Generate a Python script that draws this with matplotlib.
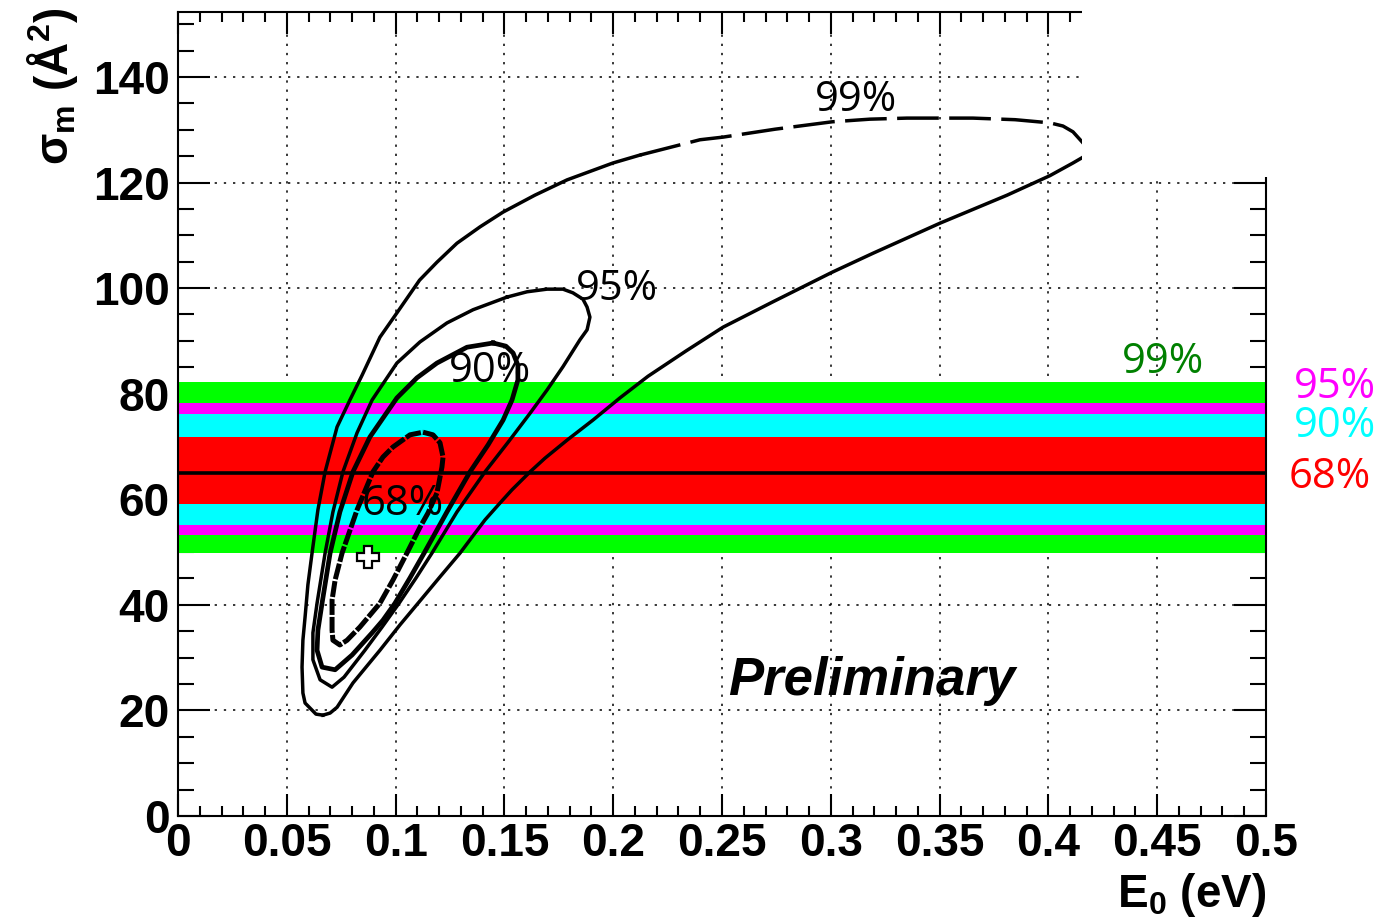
import numpy as np
import matplotlib.pyplot as plt
from matplotlib.patches import Rectangle

plt.rcParams['font.family'] = ['Liberation Sans', 'DejaVu Sans']
plt.rcParams['mathtext.fontset'] = 'custom'
plt.rcParams['mathtext.rm'] = 'Liberation Sans:bold'
plt.rcParams['mathtext.bf'] = 'Liberation Sans:bold'
plt.rcParams['mathtext.it'] = 'Liberation Sans:bold'

# best fit point
best_e0 = 0.0873
best_sigma = 49.1

# confidence contours (E0 in eV, sigma_m in A^2)
c68_e0 = np.array([0.1126, 0.1172, 0.1204, 0.1218, 0.1213, 0.119, 0.1149, 0.1112, 0.1052, 0.0988,
                   0.0928, 0.0836, 0.0777, 0.0744, 0.0712, 0.0708, 0.0708, 0.0722, 0.0754, 0.0823,
                   0.0896, 0.0942, 0.0988, 0.1066])
c68_sig = np.array([72.7, 72.2, 70.7, 68.0, 66.1, 61.2, 57.4, 54.7, 49.8, 44.7,
                    40.3, 35.8, 33.3, 32.4, 33.3, 35.2, 40.9, 44.7, 49.8, 58.0,
                    65.2, 68.0, 69.9, 72.2])

c90_e0 = np.array([0.1448, 0.1507, 0.154, 0.1562, 0.1562, 0.1535, 0.1494, 0.1425, 0.1342, 0.1236,
                   0.1131, 0.1066, 0.0997, 0.0942, 0.0892, 0.080, 0.0722, 0.0662, 0.0639, 0.0643,
                   0.0662, 0.0699, 0.0744, 0.0804, 0.0882, 0.1006, 0.1098, 0.119, 0.1328])
c90_sig = np.array([89.6, 89.0, 87.7, 85.4, 82.6, 78.8, 75.0, 70.3, 65.2, 57.6,
                    49.8, 45.1, 40.3, 37.1, 34.7, 30.5, 27.7, 28.2, 31.4, 35.2,
                    40.3, 49.8, 57.6, 65.2, 71.8, 79.2, 83.0, 85.8, 88.8])

c95_e0 = np.array([0.1512, 0.1604, 0.1696, 0.1769, 0.1815, 0.1861, 0.188, 0.1893, 0.188, 0.1847,
                   0.1769, 0.1696, 0.1618, 0.1517, 0.1411, 0.1282, 0.1167, 0.1094, 0.1016, 0.0938,
                   0.0859, 0.0763, 0.0708, 0.0653, 0.062, 0.062, 0.0639, 0.0676, 0.0712, 0.0758,
                   0.0823, 0.0892, 0.1006, 0.1112, 0.1236, 0.1356])
c95_sig = np.array([98.3, 99.3, 99.8, 99.8, 99.1, 97.9, 96.4, 94.5, 92.1, 90.2,
                    85.1, 80.7, 76.3, 70.8, 65.2, 57.6, 49.8, 45.1, 40.3, 35.8,
                    31.4, 26.3, 24.4, 25.8, 29.6, 34.7, 40.3, 49.8, 57.6, 65.2,
                    72.6, 78.8, 85.8, 89.8, 93.4, 95.9])

c99_e0 = np.array([0.0666, 0.0634, 0.0584, 0.0574, 0.057, 0.0574, 0.0584, 0.0597, 0.0616, 0.0643,
                   0.0676, 0.0731, 0.079, 0.0846, 0.0928, 0.1006, 0.111, 0.119, 0.1282, 0.1388,
                   0.1494, 0.164, 0.1788, 0.1999, 0.2123, 0.2399, 0.2505, 0.2744, 0.3006, 0.318,
                   0.335, 0.3653, 0.3847, 0.4007, 0.4067, 0.4113, 0.4159, 0.4182,
                   0.4159, 0.4113, 0.4007, 0.381, 0.3502, 0.3194, 0.3006, 0.2734, 0.2505, 0.2335,
                   0.216, 0.2031, 0.1907, 0.1788, 0.1687, 0.1618, 0.1535, 0.148, 0.1411, 0.1296,
                   0.1204, 0.1103, 0.102, 0.0928, 0.0804, 0.0731, 0.0699])
c99_sig = np.array([19.1, 19.3, 21.4, 23.3, 28.2, 33.3, 37.7, 43.8, 49.8, 58.0,
                    65.2, 73.7, 78.8, 83.5, 90.7, 95.3, 101.5, 104.9, 108.5, 111.6,
                    114.4, 117.6, 120.5, 123.7, 125.2, 128.1, 128.6, 130.1, 131.5, 132.0,
                    132.2, 132.2, 131.9, 131.3, 130.7, 129.6, 127.5, 126.2,
                    124.8, 123.7, 121.3, 117.6, 112.3, 106.6, 103.0, 97.4, 92.6, 88.1,
                    83.3, 79.2, 75.0, 71.2, 67.8, 65.2, 61.8, 59.3, 56.1, 49.8,
                    45.3, 40.3, 36.2, 31.4, 25.2, 20.6, 19.5])

# horizontal bands (other measurement)
band_center = 65.0
band_names = ['99%', '95%', '90%', '68%']
band_low = [49.8, 53.2, 55.1, 59.1]
band_high = [82.3, 78.2, 76.2, 71.8]
band_colors = ['#00ff00', '#ff00ff', '#00ffff', '#ff0000']
band_text_colors = ['#008000', '#ff00ff', '#00ffff', '#ff0000']

xtick_vals = [0, 0.05, 0.1, 0.15, 0.2, 0.25, 0.3, 0.35, 0.4, 0.45, 0.5]
xtick_labels = ['0', '0.05', '0.1', '0.15', '0.2', '0.25', '0.3', '0.35', '0.4', '0.45', '0.5']
ytick_vals = [0, 20, 40, 60, 80, 100, 120, 140]
ytick_labels = ['0', '20', '40', '60', '80', '100', '120', '140']


def closed(a):
    return np.append(a, a[0])


fig = plt.figure(figsize=(13.82, 9.18), dpi=100)
ax = fig.add_axes([178 / 1382, 102 / 918, 1088 / 1382, 804 / 918])

# bands
for lo, hi, col in zip(band_low, band_high, band_colors):
    ax.axhspan(lo, hi, color=col, lw=0, zorder=1)
ax.axhline(band_center, color='black', lw=2.6, zorder=2)

# contours
ax.plot(closed(c95_e0), closed(c95_sig), color='black', lw=2.5, zorder=5)
ax.plot(closed(c90_e0), closed(c90_sig), color='black', lw=3.4, zorder=5)
ax.plot(closed(c68_e0), closed(c68_sig), color='black', lw=3.6,
        linestyle=(0, (3.2, 0.4)), zorder=5)

i_tip = int(np.argmax(c99_e0))
i_dash = int(np.argmax(c99_e0 >= 0.2))
ax.plot(c99_e0[:i_dash + 1], c99_sig[:i_dash + 1], color='black', lw=2.5, zorder=5)
ax.plot(c99_e0[i_dash:i_tip + 1], c99_sig[i_dash:i_tip + 1], color='black', lw=2.5,
        linestyle=(0, (12, 3)), zorder=5)
ax.plot(closed(c99_e0)[i_tip:], closed(c99_sig)[i_tip:], color='black', lw=2.5, zorder=5)

# best fit
ax.plot([best_e0], [best_sigma], marker='P', ms=16, mfc='white', mec='black', mew=1.6,
        linestyle='none', zorder=6)

# contour labels
lab_kw = dict(fontsize=30, family=['Open Sans', 'DejaVu Sans'], ha='center', va='baseline', zorder=7)
ax.text(0.3116, 133.5, '99%', color='black', **lab_kw)
ax.text(0.2018, 97.7, '95%', color='black', **lab_kw)
ax.text(0.1434, 82.2, '90%', color='black', **lab_kw)
ax.text(0.1034, 57.0, '68%', color='black', **lab_kw)

# band labels
ax.text(0.4527, 83.9, band_names[0], color=band_text_colors[0], **lab_kw)
ax.text(0.5317, 79.2, band_names[1], color=band_text_colors[1], clip_on=False, **lab_kw)
ax.text(0.5317, 71.8, band_names[2], color=band_text_colors[2], clip_on=False, **lab_kw)
ax.text(0.5294, 62.1, band_names[3], color=band_text_colors[3], clip_on=False, **lab_kw)

ax.text(0.2528, 22.9, 'Preliminary', fontsize=38, fontweight='bold', fontstyle='italic',
        ha='left', va='baseline', zorder=7)

ax.set_xlim(0, 0.5)
ax.set_ylim(0, 152.3)
ax.set_xticks(xtick_vals)
ax.set_xticklabels(xtick_labels, fontsize=33, fontweight='bold')
ax.set_yticks(ytick_vals)
ax.set_yticklabels(ytick_labels, fontsize=33, fontweight='bold')
ax.set_xticks(np.arange(0, 0.5001, 0.01), minor=True)
ax.set_yticks(np.arange(0, 152, 5), minor=True)
ax.tick_params(which='both', direction='in', top=True, right=True, width=1.5, color='black')
ax.tick_params(axis='x', which='major', length=16, pad=4)
ax.tick_params(axis='x', which='minor', length=7)
ax.tick_params(axis='y', which='major', length=23, pad=6)
ax.tick_params(axis='y', which='minor', length=11.5)
for sp in ax.spines.values():
    sp.set_linewidth(1.5)

ax.grid(True, which='major', color='black', linestyle=(0, (1.5, 4.5)), linewidth=1.1)
ax.set_axisbelow(True)

# the original frame is cut away in the upper right corner
ax.add_patch(Rectangle((0.4155, 121.0), 0.3, 60, facecolor='white', edgecolor='none',
                       zorder=10, clip_on=False))

fig.text(52 / 1382, 1 - 8 / 918, r'σ$_{m}$ (Å$^{2}$)', rotation=90, ha='center', va='top',
         fontsize=33, fontweight='bold')
fig.text(1266 / 1382, 11 / 918, r'E$_{0}$ (eV)', ha='right', va='baseline',
         fontsize=33, fontweight='bold')

fig.savefig('out.png', dpi=100)
